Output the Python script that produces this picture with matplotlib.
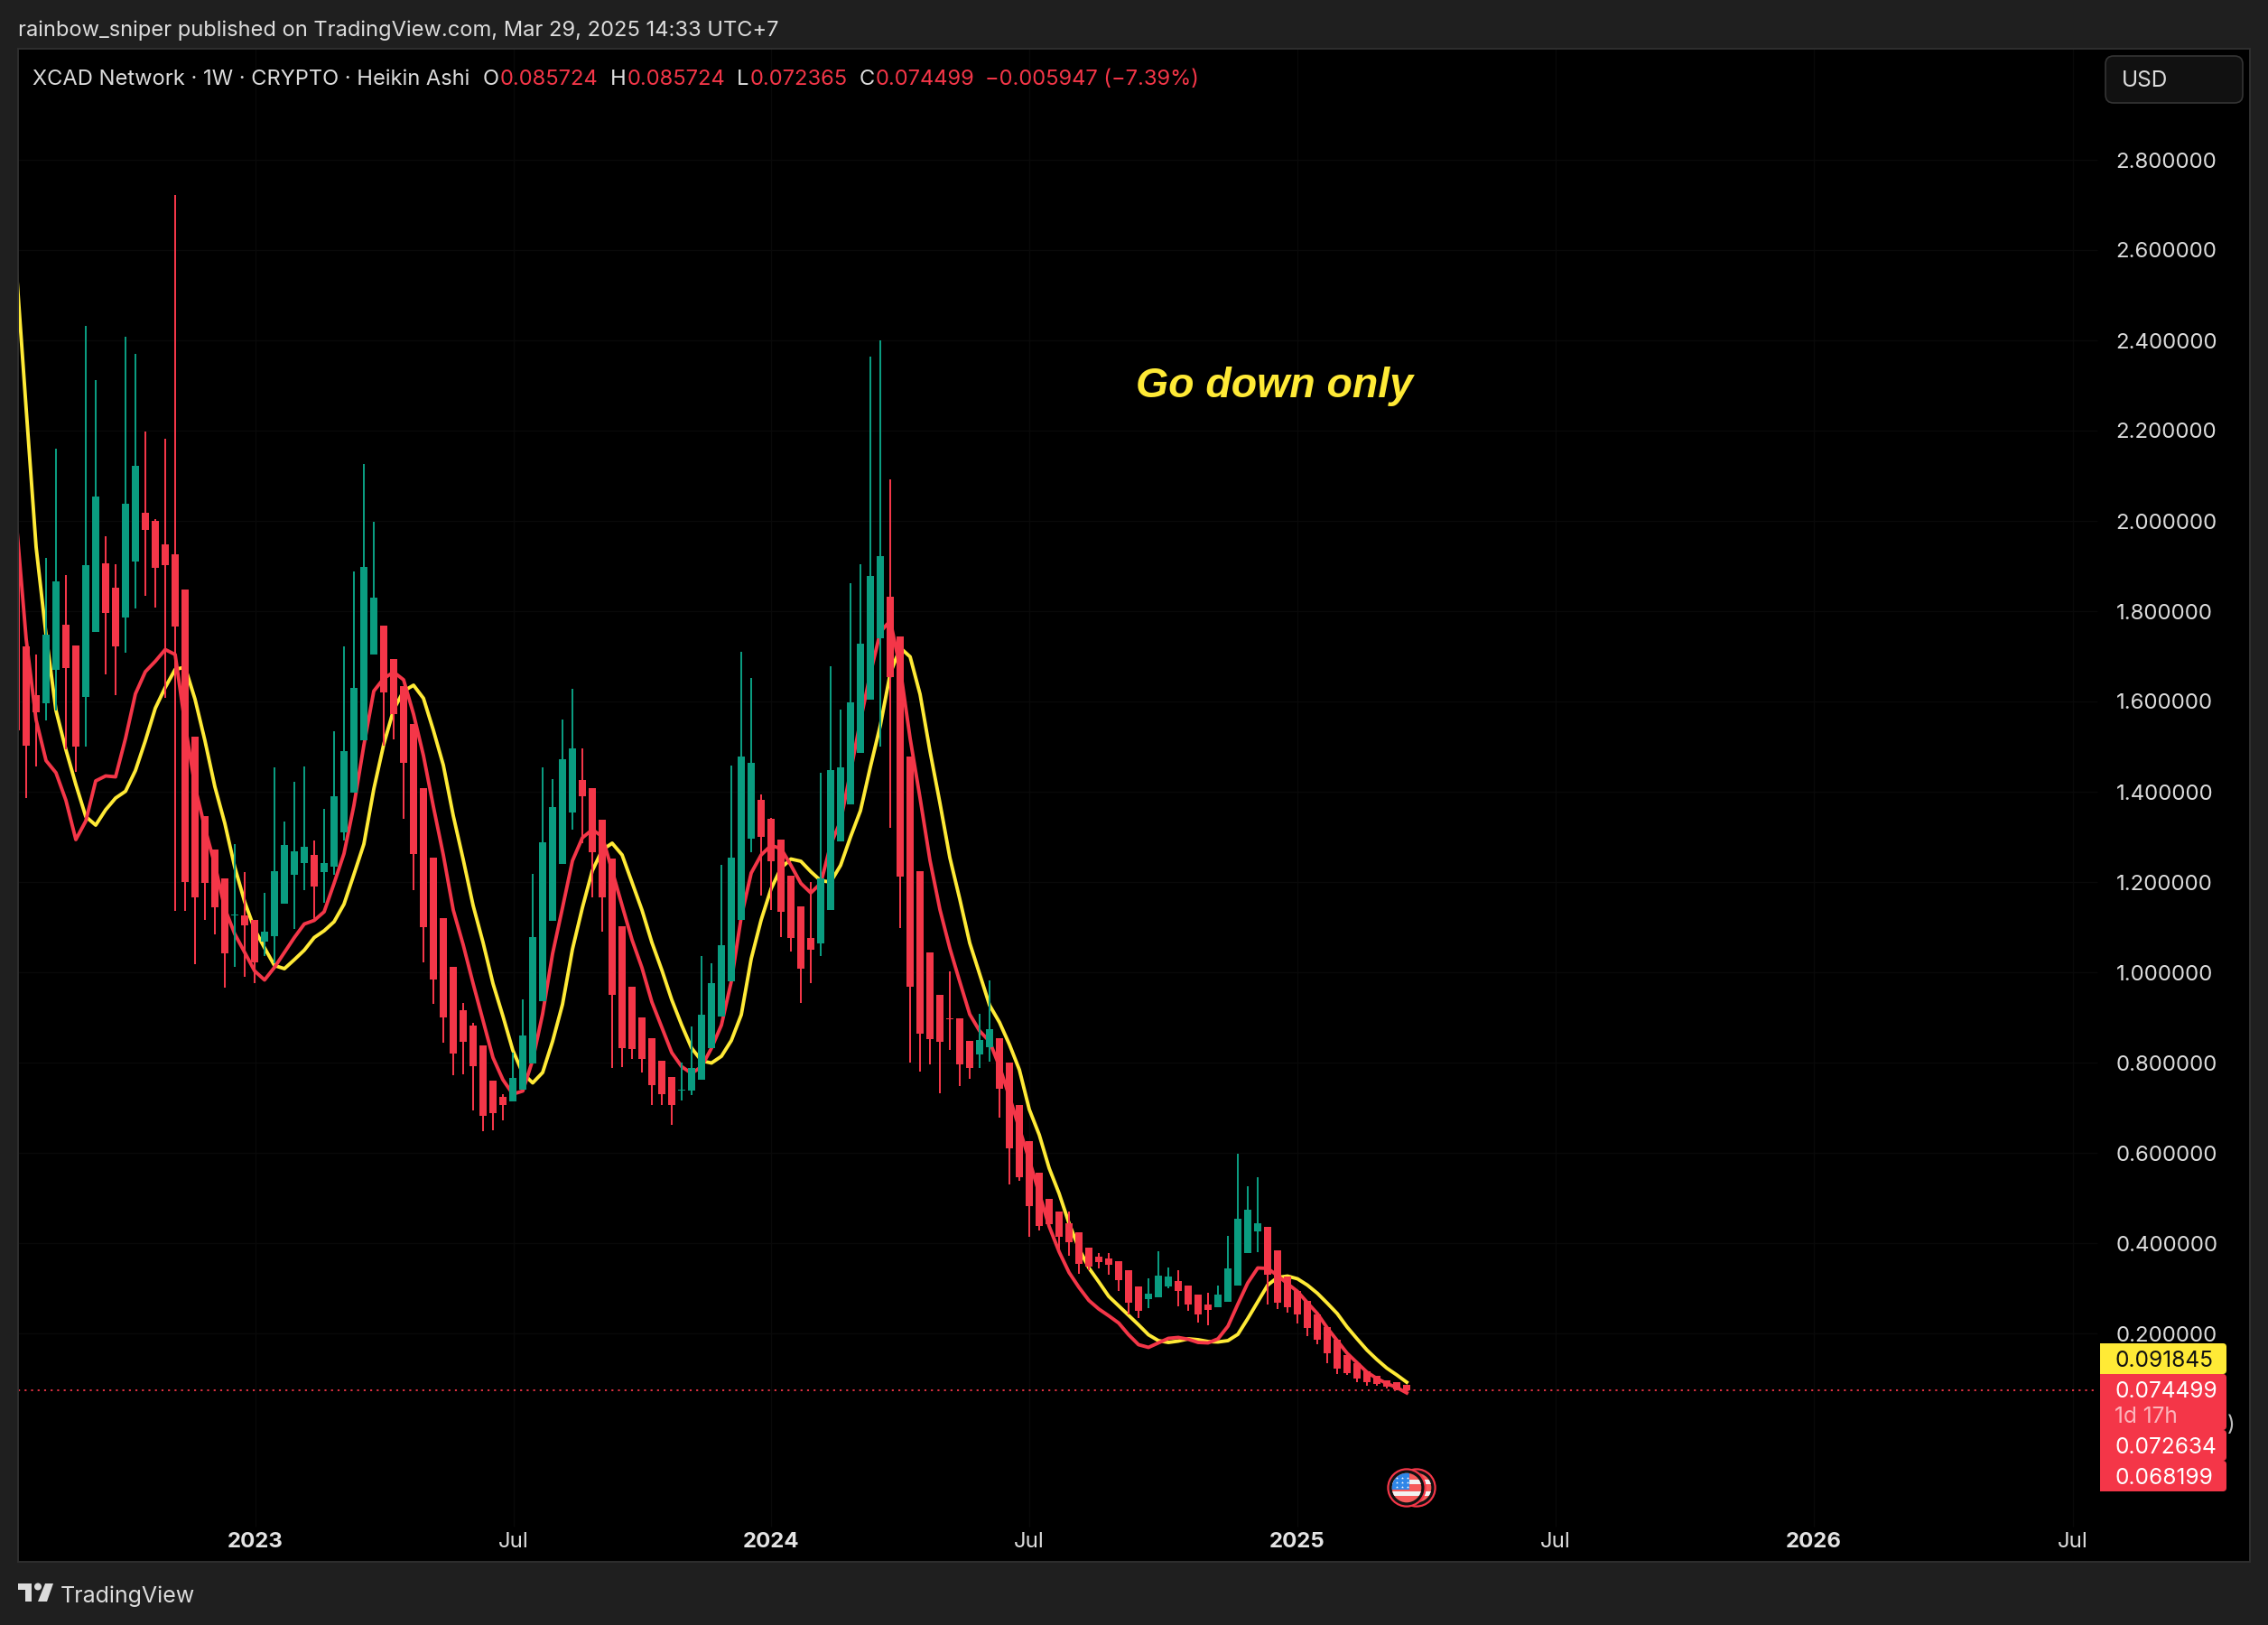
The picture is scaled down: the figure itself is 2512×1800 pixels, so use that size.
import matplotlib
matplotlib.use("Agg")
import matplotlib.pyplot as plt
import numpy as np
from matplotlib.patches import Circle, FancyBboxPatch, Polygon, Rectangle

plt.rcParams["font.family"] = ["Inter", "DejaVu Sans"]

# Weekly Heikin Ashi candles (first one is cut by the left edge)
open_prices = [
    1.942, 1.722, 1.614, 1.595, 1.671, 1.770, 1.724, 1.611, 1.755, 1.906, 1.852, 1.787,
    1.911, 2.018, 2.000, 1.948, 1.926, 1.848, 1.523, 1.346, 1.272, 1.208, 1.125, 1.126,
    1.116, 1.068, 1.080, 1.151, 1.215, 1.241, 1.260, 1.222, 1.233, 1.311, 1.398, 1.515,
    1.705,
    1.768, 1.694, 1.634, 1.550, 1.408, 1.254, 1.120, 1.012, .916, .882, .838, .760, .725,
    .715, .740, .799, .937, 1.113, 1.239, 1.354,
    1.426, 1.408, 1.338, 1.252, 1.102, .968, .900, .854, .804, .768,
    .738, .738, .762, .832, .903, .980, 1.116, 1.297,
    1.382, 1.341, 1.294, 1.214, 1.146, 1.077,
    1.065, 1.137, 1.291, 1.372, 1.485, 1.604, 1.740,
    1.832, 1.744, 1.478, 1.224, 1.044, .950, .899, .898, .848,
    .818, .834,
    .854, .800, .706, .626, .556, .498, .470, .444, .424, .390, .370, .366, .360, .340, .304,
    .276, .281, .304,
    .316, .306, .286, .264,
    .258, .270, .306, .378, .426,
    .436, .384, .327, .294, .272, .242, .214, .186, .153, .134, .117, .107, .097, .092, .0857,
]
close_prices = [
    1.536, 1.503, 1.576, 1.748, 1.866, 1.675, 1.499, 1.902, 2.054, 1.797, 1.723, 2.038,
    2.122, 1.981, 1.897, 1.903, 1.767, 1.199, 1.165, 1.197, 1.143, 1.043, 1.128, 1.104,
    1.023, 1.090, 1.224, 1.282, 1.268, 1.278, 1.189, 1.242, 1.390, 1.490, 1.630, 1.898,
    1.830,
    1.621, 1.572, 1.463, 1.263, 1.100, .985, .900, .820, .847, .793, .683, .689, .706,
    .766, .860, 1.078, 1.288, 1.366, 1.472, 1.496,
    1.389, 1.267, 1.165, .951, .833, .831, .809, .750, .730, .707,
    .741, .788, .906, .976, 1.060, 1.254, 1.478, 1.464,
    1.301, 1.245, 1.133, 1.077, 1.009, 1.050,
    1.208, 1.448, 1.454, 1.598, 1.728, 1.878, 1.922,
    1.654, 1.211, .969, .864, .852, .847, .896, .797, .789,
    .850, .874,
    .742, .611, .546, .482, .438, .442, .415, .402, .354, .349, .358, .352, .319, .268, .251,
    .288, .328, .326,
    .294, .264, .242, .252,
    .286, .344, .454, .474, .444,
    .331, .268, .258, .243, .213, .186, .156, .122, .112, .100, .092, .088, .083, .076, .0745,
]
high_prices = [
    1.942, 1.722, 1.704, 1.918, 2.160, 1.880, 1.724, 2.432, 2.312, 1.966, 1.904, 2.408,
    2.370, 2.199, 2.003, 2.182, 2.722, 1.848, 1.523, 1.346, 1.272, 1.208, 1.284, 1.222,
    1.116, 1.176, 1.454, 1.334, 1.422, 1.456, 1.292, 1.362, 1.534, 1.722, 1.888, 2.126,
    1.998,
    1.768, 1.694, 1.634, 1.550, 1.408, 1.254, 1.120, 1.012, .932, .888, .838, .760, .730,
    .822, .940, 1.218, 1.454, 1.428, 1.560, 1.628,
    1.496, 1.408, 1.338, 1.252, 1.102, .968, .900, .854, .804, .768,
    .800, .880, 1.036, 1.020, 1.238, 1.458, 1.710, 1.651,
    1.394, 1.341, 1.294, 1.214, 1.146, 1.200,
    1.441, 1.678, 1.581, 1.862, 1.904, 2.364, 2.400,
    2.092, 1.744, 1.478, 1.224, 1.044, .950, 1.002, .898, .848,
    .908, .982,
    .854, .800, .706, .626, .556, .498, .470, .470, .424, .390, .379, .378, .360, .340, .304,
    .323, .382, .346,
    .340, .306, .286, .290,
    .306, .416, .598, .526, .546,
    .436, .384, .327, .294, .272, .242, .214, .186, .153, .134, .117, .107, .097, .092, .0857,
]
low_prices = [
    1.536, 1.386, 1.455, 1.557, 1.580, 1.493, 1.443, 1.501, 1.755, 1.659, 1.613, 1.707,
    1.805, 1.833, 1.807, 1.607, 1.136, 1.136, 1.019, 1.115, 1.085, .967, 1.013, .991,
    .977, 1.037, 1.020, 1.151, 1.097, 1.181, 1.117, 1.153, 1.215, 1.292, 1.398, 1.515,
    1.705,
    1.503, 1.517, 1.339, 1.181, 1.023, .931, .845, .773, .775, .694, .648, .651, .673,
    .715, .740, .799, .937, 1.113, 1.239, 1.317,
    1.286, 1.165, 1.091, .789, .790, .809, .779, .707, .707, .663,
    .717, .728, .762, .832, .903, .980, 1.116, 1.267,
    1.170, 1.137, 1.079, 1.046, .933, .976,
    1.036, 1.137, 1.291, 1.372, 1.485, 1.604, 1.499,
    1.321, 1.099, .801, .781, .797, .732, .829, .749, .764,
    .789, .803,
    .679, .530, .538, .414, .428, .437, .381, .372, .332, .340, .344, .330, .294, .242, .235,
    .256, .281, .300,
    .260, .251, .224, .218,
    .258, .270, .306, .378, .380,
    .264, .254, .246, .222, .194, .176, .135, .110, .108, .093, .084, .084, .078, .074, .0724,
]

# The two moving averages
ma_yellow = [
    2.560, 2.248, 1.942, 1.748, 1.580, 1.493, 1.416, 1.345, 1.326, 1.360, 1.386, 1.401,
    1.447, 1.513, 1.585, 1.631, 1.671, 1.676, 1.605, 1.513, 1.411, 1.330, 1.233, 1.156,
    1.095, 1.054, 1.015, 1.008, 1.028, 1.049, 1.077, 1.092, 1.112, 1.151, 1.217, 1.284,
    1.406,
    1.505, 1.582, 1.623, 1.636, 1.607, 1.536, 1.459, 1.347, 1.250, 1.148, 1.066, .975,
    .903, .827, .776, .755, .778, .847, .929, 1.051, 1.143, 1.225, 1.271, 1.286, 1.260,
    1.199, 1.138, 1.066, 1.005, .939, .883, .832, .804, .799, .814, .849, .906,
    1.030, 1.116, 1.185, 1.231, 1.251, 1.246, 1.223, 1.203, 1.200, 1.237, 1.300, 1.358,
    1.455, 1.547, 1.662, 1.719, 1.699, 1.616, 1.490, 1.375, 1.254, 1.162, 1.065, .996, .927,
    .889, .840, .784, .696, .640, .566, .510, .444, .388, .345, .314, .282, .261, .240,
    .219, .197, .184, .180, .183, .188, .186, .182, .181, .184, .198, .233, .270, .307,
    .324, .327, .321, .307, .289, .267, .244, .214, .188, .163, .142, .123, .108, .0918,
]
ma_red = [
    2.000, 1.738, 1.559, 1.469, 1.442, 1.381, 1.294, 1.335, 1.424, 1.435, 1.433, 1.518,
    1.617, 1.666, 1.689, 1.715, 1.704, 1.549, 1.411, 1.319, 1.238, 1.141, 1.085, 1.044,
    1.003, .983, 1.011, 1.044, 1.077, 1.107, 1.115, 1.134, 1.197, 1.263, 1.370, 1.503,
    1.623,
    1.651, 1.665, 1.648, 1.572, 1.480, 1.367, 1.260, 1.138, 1.061, .975, .893, .811, .762,
    .730, .737, .806, .908, 1.041, 1.143, 1.247, 1.298, 1.316, 1.301, 1.225, 1.148, 1.072,
    1.010, .934, .878, .822, .791, .776, .791, .832, .883, .980, 1.123,
    1.220, 1.260, 1.281, 1.274, 1.237, 1.197, 1.176, 1.197, 1.283, 1.335, 1.444, 1.558,
    1.662, 1.754, 1.779, 1.673, 1.518, 1.386, 1.248, 1.139, 1.053, .979, .907, .870, .847,
    .791, .724, .654, .584, .510, .437, .381, .335, .302, .273, .254, .239, .223, .197,
    .175, .169, .179, .189, .191, .187, .180, .179, .188, .216, .265, .312, .345, .344,
    .328, .310, .293, .268, .244, .212, .184, .156, .135, .114, .100, .089, .080, .0682,
]

price_ticks = [0.2, 0.4, 0.6, 0.8, 1.0, 1.2, 1.4, 1.6, 1.8, 2.0, 2.2, 2.4, 2.6, 2.8]
time_ticks = [23.1, 49.1, 75, 101, 128, 154, 180, 206.1]
time_labels = ["2023", "Jul", "2024", "Jul", "2025", "Jul", "2026", "Jul"]
year_labels = ["2023", "2024", "2025", "2026"]

last_close = 0.074499

BG = "#1f1f1f"
EDGE = "#2f2f2f"
TEXT = "#dcdcdc"
RED = "#f43648"
GREEN = "#0a9c80"
YELLOW = "#ffea36"

WIDTH, HEIGHT = 2512, 1800
FS = 17.3  # about 24 px at dpi 100
HEADER_FS = 17.05
TAG_FS = 17.6

fig = plt.figure(figsize=(WIDTH / 100, HEIGHT / 100), dpi=100, facecolor=BG)

# Chart panel: one bar is 11 px wide, 0.2 of price is 100 px high
ax = fig.add_axes([20 / WIDTH, (HEIGHT - 1730) / HEIGHT, 2472 / WIDTH, 1676 / HEIGHT])
ax.set_facecolor("black")
ax.set_xlim(-0.818, 223.9)
ax.set_ylim(-0.306, 3.046)
for spine in ax.spines.values():
    spine.set_visible(False)

x = np.arange(-1, len(open_prices) - 1)
opens = np.array(open_prices)
closes = np.array(close_prices)
highs = np.array(high_prices)
lows = np.array(low_prices)
colors = [GREEN if c >= o else RED for o, c in zip(opens, closes)]

# Faint grid stops before the price scale
ax.hlines(price_ticks, -0.818, 208.5, color="#090909", lw=1, zorder=1)
ax.vlines(time_ticks, -0.228, 3.046, color="#090909", lw=1, zorder=1)

ax.plot(x, ma_yellow, color=YELLOW, lw=2.8, solid_joinstyle="round", zorder=2)
ax.plot(x, ma_red, color=RED, lw=2.8, solid_joinstyle="round", zorder=3)

ax.axhline(last_close, xmax=0.9305, color=RED, lw=1.3, linestyle=(0, (1.2, 2.8)), zorder=3)

ax.vlines(x, lows, highs, color=colors, lw=1.45, zorder=4)
ax.bar(x, np.abs(closes - opens), bottom=np.minimum(opens, closes), width=8 / 11,
       color=colors, linewidth=0, zorder=5)

ax.text(111.7, 2.298, "Go down only", color=YELLOW, fontsize=33.5, fontweight="bold",
        fontstyle="italic", family="Liberation Sans", ha="left", va="center", zorder=6)

ax.set_yticks(price_ticks)
ax.set_yticklabels([f"{p:.6f}" for p in price_ticks])
ax.yaxis.tick_right()
ax.tick_params(axis="y", direction="in", length=0, pad=-107, labelsize=FS, labelcolor=TEXT)

ax.set_xticks(time_ticks)
ax.set_xticklabels(time_labels)
ax.tick_params(axis="x", direction="in", length=0, pad=-24, labelsize=FS, labelcolor=TEXT)
for label in ax.get_xticklabels():
    if label.get_text() in year_labels:
        label.set_fontweight("bold")
        label.set_color("#e4e4e4")

# Everything around the chart, in pixel coordinates
chrome = fig.add_axes([0, 0, 1, 1], zorder=10)
chrome.set_xlim(0, WIDTH)
chrome.set_ylim(HEIGHT, 0)
chrome.axis("off")
chrome.patch.set_alpha(0)

chrome.add_patch(Rectangle((20, 54), 2472, 1676, fill=False, ec=EDGE, lw=1.4))
chrome.text(20, 34, "rainbow_sniper published on TradingView.com, Mar 29, 2025 14:33 UTC+7",
            color=TEXT, fontsize=HEADER_FS, ha="left", va="center")

header = [
    (36, "XCAD Network · 1W · CRYPTO · Heikin Ashi", TEXT),
    (535, "O", TEXT), (554, "0.085724", RED),
    (676, "H", TEXT), (695, "0.085724", RED),
    (816, "L", TEXT), (831, "0.072365", RED),
    (952, "C", TEXT), (970, "0.074499", RED),
    (1091, "−0.005947 (−7.39%)", RED),
]
for px, label, color in header:
    chrome.text(px, 88, label, color=color, fontsize=HEADER_FS, ha="left", va="center")

chrome.add_patch(FancyBboxPatch((2332, 62), 152, 52, boxstyle="round,pad=0,rounding_size=9",
                                fc="#111111", ec="#343434", lw=1.2))
chrome.text(2350, 89, "USD", color=TEXT, fontsize=TAG_FS, ha="left", va="center")


def price_tag(top, bottom, color):
    chrome.add_patch(FancyBboxPatch((2326, top), 140, bottom - top,
                                    boxstyle="round,pad=0,rounding_size=4", fc=color, lw=0))
    chrome.add_patch(Rectangle((2326, top), 20, bottom - top, fc=color, lw=0))


chrome.text(2467, 1579, ")", color="#bdbdbd", fontsize=FS, ha="left", va="center")
price_tag(1488, 1522, YELLOW)
price_tag(1522, 1584, RED)
price_tag(1584, 1618, RED)
price_tag(1618, 1652, RED)
chrome.text(2342, 1507, "0.091845", color="#111111", fontsize=TAG_FS, ha="left", va="center")
chrome.text(2342, 1541, "0.074499", color="white", fontsize=TAG_FS, ha="left", va="center")
chrome.text(2342, 1569, "1d 17h", color="#fbb4bb", fontsize=TAG_FS, ha="left", va="center")
chrome.text(2342, 1603, "0.072634", color="white", fontsize=TAG_FS, ha="left", va="center")
chrome.text(2342, 1637, "0.068199", color="white", fontsize=TAG_FS, ha="left", va="center")


def flag_marker(cx, cy):
    chrome.add_patch(Circle((cx, cy), 21.7, fc=RED, lw=0))
    chrome.add_patch(Circle((cx, cy), 19.5, fc="#111111", lw=0))
    face = Circle((cx, cy), 16.3, fc="#f65a5a", lw=0)
    chrome.add_patch(face)
    for offset, h in [(-9.0, 5.3), (3.7, 5.0)]:
        stripe = Rectangle((cx - 17, cy + offset), 34, h, fc="#f2f2f2", lw=0)
        chrome.add_patch(stripe)
        stripe.set_clip_path(face)
    canton = Rectangle((cx - 17, cy - 17), 20, 19, fc="#2e86e8", lw=0)
    chrome.add_patch(canton)
    canton.set_clip_path(face)
    stars = chrome.scatter([cx - 11, cx - 5, cx + 1] * 3,
                           [cy - 11] * 3 + [cy - 6] * 3 + [cy - 1] * 3,
                           s=5, c="white", marker="*", linewidths=0)
    stars.set_clip_path(face)


flag_marker(1569, 1648)
flag_marker(1558, 1648)

# TradingView logo and wordmark
chrome.add_patch(Polygon([(20, 1754), (35, 1754), (35, 1774), (27.5, 1774), (27.5, 1760.5), (20, 1760.5)],
                         closed=True, fc="#dcdcdc", lw=0))
chrome.add_patch(Circle((42, 1757.5), 4, fc="#dcdcdc", lw=0))
chrome.add_patch(Polygon([(50, 1754), (59, 1754), (52, 1774), (42, 1774)], closed=True, fc="#dcdcdc", lw=0))
chrome.text(67, 1768, "TradingView", color="#dcdcdc", fontsize=18, ha="left", va="center")

fig.savefig("out.png", dpi=100, facecolor=BG)
